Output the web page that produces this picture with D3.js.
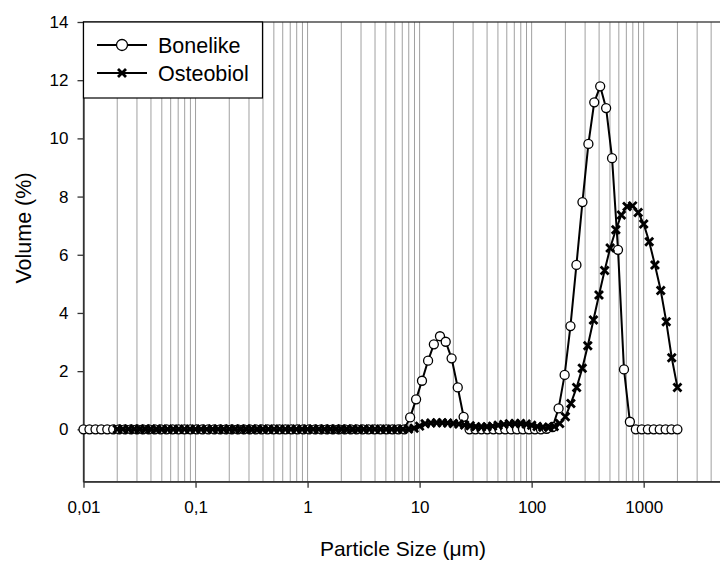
<!DOCTYPE html>
<html>
<head>
<meta charset="utf-8">
<script src="https://cdn.jsdelivr.net/npm/d3@7"></script>
<style>
  body { margin: 0; background: #fff; }
  svg { display: block; font-family: 'Liberation Sans', Arial, sans-serif; }
</style>
</head>
<body>
<svg width="720" height="563"></svg>
<script>
'use strict';

// size classes (um) and volume (%)
const bonelikeSize = [
  0.01, 0.0113, 0.0128, 0.0144, 0.0163, 0.0184, 0.0208, 0.0235, 0.0266, 0.03,
  0.0339, 0.0383, 0.0433, 0.0489, 0.0552, 0.0624, 0.0705, 0.0796, 0.09, 0.102,
  0.115, 0.13, 0.147, 0.166, 0.187, 0.211, 0.239, 0.27, 0.305, 0.345,
  0.389, 0.44, 0.497, 0.561, 0.634, 0.717, 0.81, 0.915, 1.03, 1.17,
  1.32, 1.49, 1.68, 1.9, 2.15, 2.43, 2.74, 3.1, 3.5, 3.96,
  4.47, 5.05, 5.71, 6.45, 7.29, 8.23, 9.3, 10.5, 11.9, 13.4,
  15.2, 17.1, 19.3, 21.9, 24.7, 27.9, 31.5, 35.6, 40.2, 45.5,
  51.4, 58, 65.6, 74.1, 83.7, 94.6, 107, 121, 136, 154,
  174, 197, 222, 251, 284, 321, 362, 409, 462, 522,
  590, 667, 753, 851, 962, 1090, 1230, 1390, 1570, 1770,
  2000
];
const bonelikeVolume = [
  0, 0, 0, 0, 0, 0, 0, 0, 0, 0,
  0, 0, 0, 0, 0, 0, 0, 0, 0, 0,
  0, 0, 0, 0, 0, 0, 0, 0, 0, 0,
  0, 0, 0, 0, 0, 0, 0, 0, 0, 0,
  0, 0, 0, 0, 0, 0, 0, 0, 0, 0,
  0, 0, 0, 0, 0, 0.41, 1.03, 1.67, 2.36, 2.92,
  3.2, 3.01, 2.44, 1.44, 0.43, 0, 0, 0, 0, 0,
  0, 0, 0, 0, 0, 0, 0, 0, 0.02, 0.08,
  0.72, 1.87, 3.55, 5.65, 7.81, 9.81, 11.24, 11.79, 11.04, 9.32,
  6.17, 2.06, 0.26, 0, 0, 0, 0, 0, 0, 0,
  0
];

const osteobiolSize = [
  0.02, 0.0224, 0.0252, 0.0283, 0.0317, 0.0356, 0.0399, 0.0448, 0.0502, 0.0564,
  0.0632, 0.071, 0.0796, 0.0893, 0.1, 0.112, 0.126, 0.142, 0.159, 0.178,
  0.2, 0.224, 0.252, 0.283, 0.317, 0.356, 0.399, 0.448, 0.502, 0.564,
  0.632, 0.71, 0.796, 0.893, 1, 1.12, 1.26, 1.42, 1.59, 1.78,
  2, 2.24, 2.52, 2.83, 3.17, 3.56, 3.99, 4.48, 5.02, 5.64,
  6.32, 7.1, 7.96, 8.93, 10, 11.2, 12.6, 14.2, 15.9, 17.8,
  20, 22.4, 25.2, 28.3, 31.7, 35.6, 39.9, 44.8, 50.2, 56.4,
  63.2, 71, 79.6, 89.3, 100, 112, 126, 142, 159, 178,
  200, 224, 252, 283, 317, 356, 399, 448, 502, 564,
  632, 710, 796, 893, 1000, 1120, 1260, 1420, 1590, 1780,
  2000
];
const osteobiolVolume = [
  0, 0, 0, 0, 0, 0, 0, 0, 0, 0,
  0, 0, 0, 0, 0, 0, 0, 0, 0, 0,
  0, 0, 0, 0, 0, 0, 0, 0, 0, 0,
  0, 0, 0, 0, 0, 0, 0, 0, 0, 0,
  0, 0, 0, 0, 0, 0, 0, 0, 0, 0,
  0, 0, 0.01, 0.04, 0.11, 0.19, 0.22, 0.23, 0.23, 0.22,
  0.2, 0.18, 0.15, 0.12, 0.09, 0.08, 0.09, 0.11, 0.14, 0.17,
  0.19, 0.2, 0.2, 0.18, 0.14, 0.1, 0.07, 0.07, 0.1, 0.2,
  0.43, 0.89, 1.44, 2.1, 2.87, 3.76, 4.62, 5.46, 6.23, 6.86,
  7.37, 7.66, 7.68, 7.45, 7.06, 6.45, 5.65, 4.77, 3.7, 2.46,
  1.44
];

const xTickValues = [0.01, 0.1, 1, 10, 100, 1000];
const xTickLabels = ['0,01', '0,1', '1', '10', '100', '1000'];
const yTickValues = [0, 2, 4, 6, 8, 10, 12, 14];

const svg = d3.select('svg');

const plotLeft = 83.5, plotRight = 722, plotTop = 22, plotBottom = 481.7;

const xScale = d3.scaleLog().domain([0.01, 5000]).range([plotLeft, plotRight]);
const yScale = d3.scaleLinear().domain([-1.8, 14]).range([plotBottom, plotTop]);

// vertical grid lines at every 1..9 x 10^n
svg.append('g')
  .selectAll('line')
  .data(xScale.ticks().filter(d => d > 0.01))
  .enter().append('line')
    .attr('x1', d => xScale(d)).attr('x2', d => xScale(d))
    .attr('y1', plotTop).attr('y2', plotBottom)
    .attr('stroke', '#a0a0a0')
    .attr('stroke-width', 1);

// frame
svg.append('rect')
  .attr('x', plotLeft).attr('y', plotTop)
  .attr('width', plotRight - plotLeft).attr('height', plotBottom - plotTop)
  .attr('fill', 'none')
  .attr('stroke', '#333')
  .attr('stroke-width', 1.3);

const yAxis = d3.axisLeft(yScale)
  .tickValues(yTickValues)
  .tickSize(6)
  .tickSizeOuter(0)
  .tickPadding(9);

svg.append('g')
  .attr('transform', `translate(${plotLeft},0)`)
  .call(yAxis)
  .call(g => g.selectAll('.domain, line').attr('stroke', '#333').attr('stroke-width', 1.3))
  .attr('font-family', null)
  .attr('font-size', 17)
  .selectAll('text').attr('fill', '#000');

const xAxis = d3.axisBottom(xScale)
  .tickValues(xTickValues)
  .tickFormat((d, i) => xTickLabels[i])
  .tickSize(6)
  .tickSizeOuter(0)
  .tickPadding(13.5);

svg.append('g')
  .attr('transform', `translate(0,${plotBottom})`)
  .call(xAxis)
  .call(g => g.selectAll('.domain, line').attr('stroke', '#333').attr('stroke-width', 1.3))
  .attr('font-family', null)
  .attr('font-size', 17)
  .selectAll('text').attr('fill', '#000');

// axis titles
svg.append('text')
  .attr('x', 403)
  .attr('y', 556)
  .attr('text-anchor', 'middle')
  .attr('font-size', 21)
  .text('Particle Size (μm)');

svg.append('text')
  .attr('transform', 'translate(31,228) rotate(-90)')
  .attr('text-anchor', 'middle')
  .attr('font-size', 21.5)
  .text('Volume (%)');

const line = d3.line()
  .x(d => xScale(d[0]))
  .y(d => yScale(d[1]));

const crossPath = s => `M${-s},${-s}L${s},${s}M${-s},${s}L${s},${-s}`;

const bonelike = d3.zip(bonelikeSize, bonelikeVolume);
const osteobiol = d3.zip(osteobiolSize, osteobiolVolume);

svg.append('path')
  .datum(bonelike)
  .attr('d', line)
  .attr('fill', 'none')
  .attr('stroke', '#000')
  .attr('stroke-width', 2);

svg.append('g')
  .selectAll('circle')
  .data(bonelike)
  .enter().append('circle')
    .attr('cx', d => xScale(d[0]))
    .attr('cy', d => yScale(d[1]))
    .attr('r', 4.5)
    .attr('fill', '#fff')
    .attr('stroke', '#000')
    .attr('stroke-width', 1.3);

svg.append('path')
  .datum(osteobiol)
  .attr('d', line)
  .attr('fill', 'none')
  .attr('stroke', '#000')
  .attr('stroke-width', 2);

svg.append('g')
  .selectAll('path')
  .data(osteobiol)
  .enter().append('path')
    .attr('transform', d => `translate(${xScale(d[0])},${yScale(d[1])})`)
    .attr('d', crossPath(4))
    .attr('stroke', '#000')
    .attr('stroke-width', 2.8);

// legend
const legend = svg.append('g');
legend.append('rect')
  .attr('x', plotLeft).attr('y', plotTop)
  .attr('width', 179).attr('height', 76)
  .attr('fill', '#fff')
  .attr('stroke', '#000')
  .attr('stroke-width', 1.2);

const legendItems = [
  { name: 'Bonelike', y: 45, marker: 'circle' },
  { name: 'Osteobiol', y: 73, marker: 'cross' }
];

legendItems.forEach(item => {
  legend.append('line')
    .attr('x1', 97).attr('x2', 147)
    .attr('y1', item.y).attr('y2', item.y)
    .attr('stroke', '#000')
    .attr('stroke-width', 2);
  if (item.marker === 'circle') {
    legend.append('circle')
      .attr('cx', 122).attr('cy', item.y).attr('r', 5.5)
      .attr('fill', '#fff').attr('stroke', '#000').attr('stroke-width', 1.3);
  } else {
    legend.append('path')
      .attr('transform', `translate(122,${item.y})`)
      .attr('d', crossPath(4))
      .attr('stroke', '#000').attr('stroke-width', 2.8);
  }
  legend.append('text')
    .attr('x', 158).attr('y', item.y)
    .attr('dy', '0.35em')
    .attr('font-size', 21.5)
    .text(item.name);
});
</script>
</body>
</html>
